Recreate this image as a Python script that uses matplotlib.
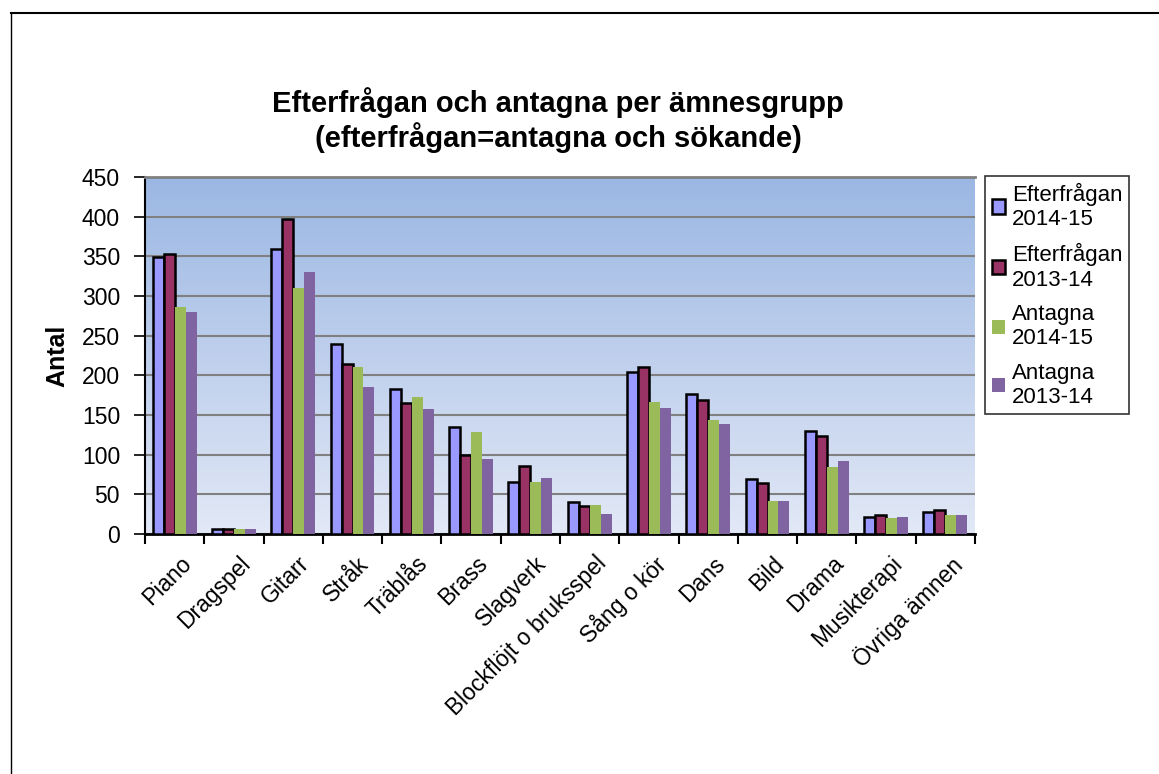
import matplotlib
matplotlib.use("Agg")
import matplotlib.pyplot as plt
import numpy as np
from matplotlib.lines import Line2D

plt.rcParams['font.family'] = ['Liberation Sans', 'DejaVu Sans']

# Data
categories = ["Piano", "Dragspel", "Gitarr", "Stråk", "Träblås", "Brass", "Slagverk",
              "Blockflöjt o bruksspel", "Sång o kör", "Dans", "Bild", "Drama",
              "Musikterapi", "Övriga ämnen"]
efterfragan_1415 = [349, 6, 359, 239, 183, 135, 66, 40, 204, 177, 69, 130, 21, 28]
efterfragan_1314 = [353, 6, 397, 214, 165, 100, 86, 35, 210, 169, 64, 123, 24, 30]
antagna_1415 = [286, 6, 310, 211, 173, 128, 66, 37, 166, 144, 41, 84, 20, 24]
antagna_1314 = [280, 6, 330, 185, 157, 94, 70, 25, 159, 139, 41, 92, 22, 24]

series_labels = ["Efterfrågan\n2014-15", "Efterfrågan\n2013-14", "Antagna\n2014-15", "Antagna\n2013-14"]
series_colors = ["#9999FF", "#993366", "#9BBB59", "#8064A2"]
series_edges = ["black", "black", "none", "none"]

fig = plt.figure(figsize=(11.59, 7.74), dpi=100)
ax = fig.add_axes([145 / 1159, 1 - 534 / 774, 830 / 1159, 357 / 774])

# gradient background
top = np.array([155, 183, 227]) / 255
bot = np.array([226, 232, 246]) / 255
t = np.linspace(0, 1, 256)[:, None]
grad = top * (1 - t) + bot * t
ax.imshow(grad[:, None, :], extent=[-0.5, len(categories) - 0.5, 0, 450],
          aspect='auto', zorder=0, origin='upper')

x = np.arange(len(categories))
w = 0.185
all_series = [efterfragan_1415, efterfragan_1314, antagna_1415, antagna_1314]
for i, vals in enumerate(all_series):
    lw = 1.8 if series_edges[i] != "none" else 0
    ax.bar(x + (i - 1.5) * w, vals, w, color=series_colors[i],
           edgecolor=series_edges[i], linewidth=lw, label=series_labels[i], zorder=3)

ax.set_xlim(-0.5, len(categories) - 0.5)
ax.set_ylim(0, 450)
ax.set_yticks(range(0, 451, 50))
ax.yaxis.grid(True, color="#808080", linewidth=1.5, zorder=1)
ax.set_axisbelow(True)

ax.set_xticks(np.arange(len(categories) + 1) - 0.5, minor=False)
ax.set_xticklabels([])
ax.set_xticks(x + 0.08, minor=True)
ax.set_xticklabels(categories, minor=True, rotation=45, ha='right',
                   rotation_mode='anchor', fontsize=16.5)
ax.tick_params(axis='x', which='minor', length=0, pad=13)
ax.tick_params(axis='x', which='major', length=7, width=1.5, direction='out')
ax.tick_params(axis='y', length=8, width=1.2, labelsize=16.5, pad=10)

ax.spines['right'].set_visible(False)
ax.spines['top'].set_color("#808080")
ax.spines['top'].set_linewidth(2)
ax.spines['left'].set_linewidth(1.5)
ax.spines['bottom'].set_linewidth(2)

ax.set_ylabel("Antal", fontsize=18, fontweight='bold', labelpad=9)

fig.text(558 / 1159, 1 - 120 / 774,
         "Efterfrågan och antagna per ämnesgrupp\n(efterfrågan=antagna och sökande)",
         ha='center', va='center', fontsize=21, fontweight='bold', linespacing=1.15)

leg = fig.legend(loc='upper left', bbox_to_anchor=(985 / 1159, 1 - 176 / 774),
                 bbox_transform=fig.transFigure, borderaxespad=0, fancybox=False,
                 edgecolor='black', fontsize=16, handlelength=0.6, handleheight=0.6,
                 handletextpad=0.3, labelspacing=0.6, borderpad=0.3)
leg.get_frame().set_linewidth(1.2)

# outer border lines
fig.add_artist(Line2D([11 / 1159, 1], [1 - 13 / 774, 1 - 13 / 774], color='black', linewidth=1.5))
fig.add_artist(Line2D([11 / 1159, 11 / 1159], [0, 1 - 13 / 774], color='black', linewidth=1))

fig.savefig("out.png", dpi=100)
